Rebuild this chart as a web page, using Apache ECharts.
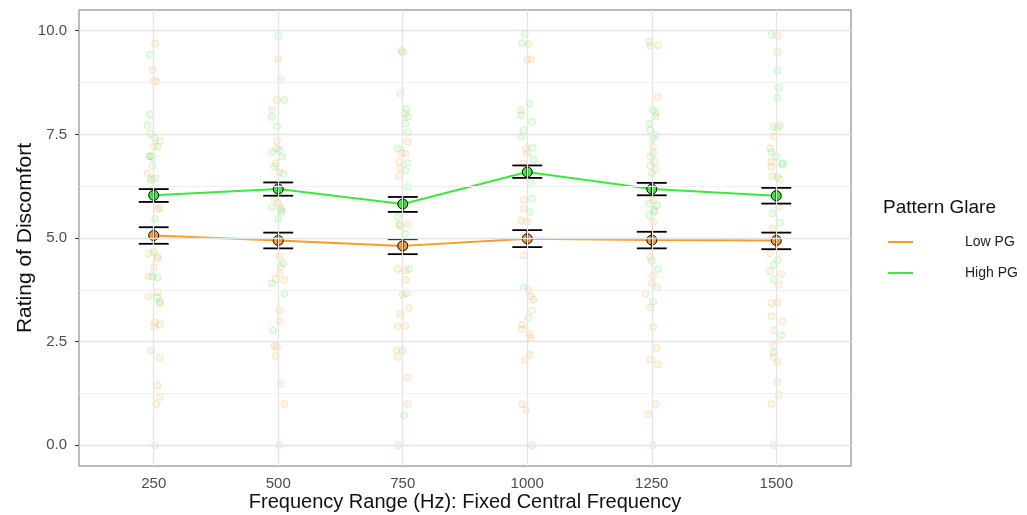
<!DOCTYPE html>
<html>
<head>
<meta charset="utf-8">
<script src="https://cdn.jsdelivr.net/npm/echarts@6/dist/echarts.min.js"></script>
<style>
  html, body { margin: 0; padding: 0; background: #fff; }
  #chart { width: 1027px; height: 515px; }
</style>
</head>
<body>
<div id="chart"></div>
<script>
// categories
const frequencies = ['250', '500', '750', '1000', '1250', '1500']
const yTicks = [0, 2.5, 5, 7.5, 10]
const yMinorTicks = [1.25, 3.75, 6.25, 8.75]

// group means with error bar ends
const lowMean = [5.06, 4.94, 4.81, 4.98, 4.95, 4.94]
const lowLower = [4.86, 4.75, 4.61, 4.78, 4.75, 4.73]
const lowUpper = [5.26, 5.13, 4.97, 5.19, 5.15, 5.13]
const highMean = [6.03, 6.18, 5.82, 6.59, 6.18, 6.02]
const highLower = [5.87, 6.02, 5.63, 6.45, 6.03, 5.83]
const highUpper = [6.18, 6.34, 5.99, 6.75, 6.33, 6.21]

// raw ratings per frequency: [jitter, rating]
const lowPoints = [
  [[0.01, 9.69], [-0.01, 9.06], [0.00, 8.79], [0.02, 8.78], [0.05, 7.34], [0.00, 7.20], [-0.03, 6.97], [-0.05, 6.57], [-0.02, 6.44], [0.05, 5.72], [0.03, 5.70],
   [-0.04, 4.63], [0.03, 4.55], [0.03, 4.50], [0.00, 4.29], [-0.04, 4.07], [0.03, 3.69], [-0.04, 3.59], [0.05, 3.41], [0.01, 2.96], [0.05, 2.91], [0.00, 2.86],
   [0.05, 2.12], [0.03, 1.44], [0.05, 1.16], [0.02, 0.99], [0.01, 0.00]],
  [[0.00, 9.32], [0.02, 8.82], [-0.01, 8.33], [-0.05, 8.08], [-0.01, 7.34], [-0.01, 7.16], [-0.02, 6.80], [0.01, 6.59], [-0.03, 5.95], [0.00, 5.84], [0.02, 5.72],
   [0.01, 4.57], [0.02, 4.31], [0.01, 4.15], [-0.02, 4.01], [0.05, 3.99], [0.01, 3.25], [0.01, 3.00], [-0.03, 2.40], [-0.01, 2.37], [-0.02, 2.15], [0.02, 1.48],
   [0.05, 0.99], [0.01, 0.00]],
  [[0.00, 9.48], [-0.02, 8.49], [0.02, 8.00], [0.04, 7.33], [-0.01, 7.05], [0.02, 7.04], [-0.03, 6.84], [-0.02, 6.68], [-0.03, 6.50], [0.04, 5.34], [-0.03, 5.32],
   [-0.04, 4.25], [0.02, 4.21], [0.02, 3.99], [0.00, 3.63], [0.05, 3.31], [-0.02, 3.17], [-0.04, 2.87], [0.02, 2.88], [-0.05, 2.29], [-0.04, 2.13], [0.04, 1.64],
   [0.04, 0.99], [-0.04, 0.00]],
  [[0.01, 9.68], [0.00, 9.30], [0.03, 9.31], [-0.05, 8.08], [-0.01, 7.16], [0.00, 7.04], [-0.03, 6.80], [-0.03, 5.91], [-0.03, 5.70], [-0.05, 5.42], [0.00, 5.40],
   [-0.03, 4.58], [0.01, 3.75], [0.03, 3.59], [0.05, 3.51], [0.04, 3.25], [-0.04, 2.91], [-0.04, 2.80], [0.02, 2.67], [0.03, 2.59], [0.02, 2.18], [-0.02, 2.05],
   [-0.04, 0.99], [-0.01, 0.85], [0.04, 0.00]],
  [[-0.01, 9.64], [0.05, 9.65], [0.05, 8.40], [0.03, 7.93], [0.01, 7.20], [-0.01, 6.96], [-0.01, 6.75], [0.03, 6.65], [0.01, 5.91], [0.02, 5.67], [0.01, 5.39],
   [-0.01, 4.54], [0.01, 4.09], [0.00, 3.91], [-0.05, 3.67], [-0.01, 3.33], [0.01, 2.85], [0.04, 2.35], [-0.01, 2.07], [0.05, 1.95], [0.03, 0.99], [-0.03, 0.76],
   [0.01, 0.00]],
  [[0.01, 9.88], [0.01, 9.48], [0.03, 7.72], [-0.02, 7.45], [-0.05, 7.16], [-0.04, 6.84], [-0.04, 6.72], [-0.03, 6.49], [0.03, 6.41], [0.02, 5.75], [-0.03, 5.23],
   [-0.05, 4.62], [-0.05, 4.20], [0.04, 4.13], [0.02, 3.87], [-0.04, 3.43], [0.01, 3.45], [-0.04, 3.11], [0.05, 2.99], [-0.02, 2.77], [-0.02, 2.40], [-0.02, 2.13],
   [0.01, 2.00], [0.02, 1.21], [-0.04, 0.99], [-0.02, 0.00]]
]
const highPoints = [
  [[-0.03, 9.42], [-0.03, 7.98], [-0.05, 7.72], [-0.03, 7.52], [0.01, 7.40], [0.03, 7.21], [-0.03, 6.97], [-0.01, 6.95], [-0.01, 6.75], [0.01, 6.44], [-0.02, 6.40],
   [0.01, 5.46], [0.00, 4.67], [-0.01, 4.07], [0.03, 4.05], [0.03, 3.56], [0.05, 3.47], [-0.02, 2.28]],
  [[0.00, 9.88], [0.05, 8.33], [-0.05, 7.92], [-0.01, 7.69], [0.01, 7.12], [-0.05, 7.07], [0.03, 6.96], [-0.03, 6.72], [0.04, 6.55], [-0.05, 5.75], [0.02, 5.67],
   [0.03, 5.63], [0.00, 5.46], [0.04, 4.39], [-0.05, 3.91], [0.05, 3.67], [-0.04, 2.77]],
  [[-0.01, 9.52], [0.03, 8.11], [0.04, 7.93], [0.02, 7.76], [0.04, 7.55], [-0.04, 7.16], [0.04, 6.81], [0.02, 6.63], [0.04, 6.23], [-0.04, 5.51], [-0.02, 5.31],
   [0.02, 5.10], [0.05, 4.25], [0.03, 3.67], [0.00, 2.28], [0.01, 0.72]],
  [[-0.02, 9.92], [-0.04, 9.70], [0.02, 8.24], [-0.05, 7.96], [0.04, 7.80], [-0.03, 7.60], [-0.05, 7.45], [0.04, 7.18], [0.05, 6.89], [0.03, 6.31], [0.04, 5.95],
   [0.02, 5.63], [-0.03, 3.81], [0.01, 3.08]],
  [[-0.02, 9.74], [0.01, 8.08], [0.03, 8.02], [-0.02, 7.76], [-0.01, 7.60], [0.03, 7.48], [0.01, 7.40], [0.01, 7.04], [0.02, 6.84], [0.00, 6.57], [-0.02, 5.83],
   [0.04, 5.79], [0.02, 5.63], [-0.02, 5.55], [0.00, 4.45], [0.05, 4.25], [0.04, 3.81], [0.01, 3.47]],
  [[-0.04, 9.90], [0.01, 9.04], [0.02, 8.62], [0.01, 8.38], [-0.02, 7.68], [0.01, 7.66], [-0.04, 7.07], [0.00, 6.96], [0.05, 6.81], [0.05, 6.78], [0.01, 6.47],
   [-0.03, 5.59], [0.03, 5.37], [0.01, 4.47], [-0.02, 4.35], [-0.02, 3.99], [0.04, 2.65], [-0.02, 2.23], [0.01, 1.53]]
]

const orange = '#F89B2B'
const green = '#3CE83C'
const catPos = frequencies.map((f, i) => i + 1)

function jittered (points) {
  const out = []
  points.forEach((col, i) => col.forEach(p => out.push([i + 1 + p[0], p[1]])))
  return out
}

function errorBar (params, api) {
  const x = api.value(0)
  const lo = api.coord([x, api.value(1)])
  const hi = api.coord([x, api.value(2)])
  const half = api.size([0.12, 0])[0]
  const style = { stroke: '#000', lineWidth: 1.8 }
  return {
    type: 'group',
    children: [
      { type: 'line', shape: { x1: hi[0], y1: hi[1], x2: lo[0], y2: lo[1] }, style },
      { type: 'line', shape: { x1: hi[0] - half, y1: hi[1], x2: hi[0] + half, y2: hi[1] }, style },
      { type: 'line', shape: { x1: lo[0] - half, y1: lo[1], x2: lo[0] + half, y2: lo[1] }, style }
    ]
  }
}

const majorGrid = { color: '#e4e4e4', width: 1.3, type: 'solid' }
const minorGrid = { color: '#f0f0f0', width: 1, type: 'solid' }
const gridLines = [
  ...catPos.map(v => ({ xAxis: v, lineStyle: majorGrid })),
  ...yTicks.map(v => ({ yAxis: v, lineStyle: majorGrid })),
  ...yMinorTicks.map(v => ({ yAxis: v, lineStyle: minorGrid }))
]

const axisText = { color: '#4d4d4d', fontSize: 15, fontFamily: 'Liberation Sans' }
const titleText = { color: '#111', fontSize: 20, fontFamily: 'Liberation Sans' }

const chart = echarts.init(document.getElementById('chart'))
chart.setOption({
  animation: false,
  backgroundColor: '#fff',
  title: {
    text: 'Pattern Glare',
    left: 878,
    top: 193,
    textStyle: Object.assign({}, titleText, { fontSize: 19, fontWeight: 'normal' })
  },
  legend: {
    data: ['Low PG', 'High PG'],
    orient: 'vertical',
    left: 883,
    top: 230,
    icon: 'rect',
    itemWidth: 25,
    itemHeight: 2,
    itemGap: 17,
    itemStyle: { borderWidth: 0 },
    textStyle: { color: '#222', fontSize: 14, fontFamily: 'Liberation Sans', padding: [0, 0, 0, 47] }
  },
  grid: {
    left: 79, right: 176, top: 10, bottom: 49,
    outerBoundsMode: 'none',
    show: true, borderColor: '#777', borderWidth: 1, containLabel: false
  },
  xAxis: {
    type: 'value',
    min: 0.4,
    max: 6.6,
    name: 'Frequency Range (Hz): Fixed Central Frequency',
    nameLocation: 'middle',
    nameGap: 26,
    nameMoveOverlap: false,
    nameTextStyle: titleText,
    axisLine: { show: false },
    axisTick: { show: true, length: 4, customValues: catPos, lineStyle: { color: '#333' } },
    axisLabel: {
      customValues: catPos,
      margin: 10,
      formatter: v => frequencies[Math.round(v) - 1],
      ...axisText
    },
    splitLine: { show: false }
  },
  yAxis: {
    type: 'value',
    min: -0.5,
    max: 10.5,
    name: 'Rating of Discomfort',
    nameLocation: 'middle',
    nameGap: 43,
    nameMoveOverlap: false,
    nameTextStyle: Object.assign({}, titleText, { fontSize: 21 }),
    axisLine: { show: false },
    axisTick: { show: true, length: 4, customValues: yTicks, lineStyle: { color: '#333' } },
    axisLabel: {
      customValues: yTicks,
      margin: 12,
      formatter: v => v.toFixed(1),
      ...axisText
    },
    splitLine: { show: false }
  },
  series: [
    {
      name: 'grid',
      type: 'line',
      data: [],
      z: 0,
      silent: true,
      markLine: { silent: true, symbol: ['none', 'none'], label: { show: false }, data: gridLines }
    },
    {
      name: 'Low raw',
      type: 'scatter',
      data: jittered(lowPoints),
      symbolSize: 7,
      z: 1,
      itemStyle: { color: 'rgba(248,155,43,0.13)', borderColor: 'rgba(248,155,43,0.3)', borderWidth: 1 }
    },
    {
      name: 'High raw',
      type: 'scatter',
      data: jittered(highPoints),
      symbolSize: 7,
      z: 1,
      itemStyle: { color: 'rgba(60,232,60,0.13)', borderColor: 'rgba(60,232,60,0.3)', borderWidth: 1 }
    },
    {
      name: 'Low PG',
      type: 'line',
      data: lowMean.map((v, i) => [i + 1, v]),
      z: 3,
      symbol: 'circle',
      symbolSize: 10,
      color: orange,
      lineStyle: { color: orange, width: 2 },
      itemStyle: { color: orange, borderColor: '#000', borderWidth: 1 }
    },
    {
      name: 'High PG',
      type: 'line',
      data: highMean.map((v, i) => [i + 1, v]),
      z: 3,
      symbol: 'circle',
      symbolSize: 10,
      color: green,
      lineStyle: { color: green, width: 2 },
      itemStyle: { color: green, borderColor: '#000', borderWidth: 1 }
    },
    {
      name: 'Low err',
      type: 'custom',
      renderItem: errorBar,
      z: 4,
      data: lowMean.map((v, i) => [i + 1, lowLower[i], lowUpper[i]])
    },
    {
      name: 'High err',
      type: 'custom',
      renderItem: errorBar,
      z: 4,
      data: highMean.map((v, i) => [i + 1, highLower[i], highUpper[i]])
    }
  ]
})
</script>
</body>
</html>
